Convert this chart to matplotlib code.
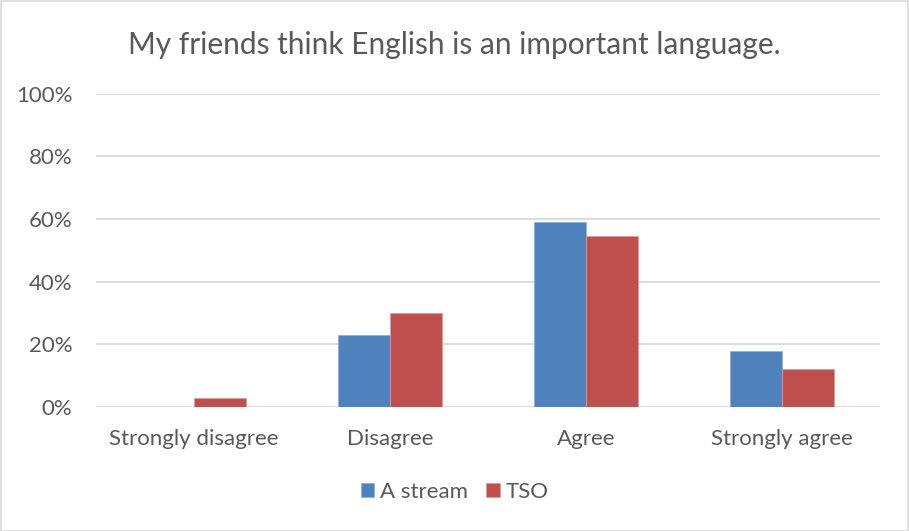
import matplotlib.pyplot as plt
from matplotlib.patches import Rectangle
import numpy as np

categories = ["Strongly disagree", "Disagree", "Agree", "Strongly agree"]
a_stream = [0.0, 23.0, 58.9, 17.9]
tso = [2.9, 30.1, 54.4, 12.0]
series_names = ["A stream", "TSO"]
yticks = [0, 20, 40, 60, 80, 100]

plt.rcParams['font.family'] = ['Lato', 'DejaVu Sans']
grey = '#595959'

fig = plt.figure(figsize=(9.09, 5.31), dpi=100)
ax = fig.add_axes([96/909, (531-407)/531, 784/909, 313.5/531])

x = np.arange(len(categories))
w = 0.265
ax.bar(x - w/2, a_stream, w, color='#4f81bd', edgecolor='#8fb0d8', linewidth=0.6, label=series_names[0], zorder=3)
ax.bar(x + w/2, tso, w, color='#c0504d', edgecolor='#e09a98', linewidth=0.6, label=series_names[1], zorder=3)

ax.set_xlim(-0.5, 3.5)
ax.set_ylim(0, 100)
ax.set_yticks(yticks)
ax.set_yticklabels([f"{v}%" for v in yticks])
ax.set_xticks(x)
ax.set_xticklabels(categories)
ax.tick_params(axis='both', length=0, labelsize=16, colors=grey)
ax.tick_params(axis='y', pad=17)
ax.tick_params(axis='x', pad=16)
ax.grid(axis='y', color='#d9d9d9', linewidth=1.3, zorder=0)
for s in ax.spines.values():
    s.set_visible(False)

fig.text(0.5, 1 - 45/531, "My friends think English is an important language.",
         ha='center', va='center', fontsize=21.5, color=grey)

leg = fig.legend(loc='center', bbox_to_anchor=(0.5, 1 - 492/531), ncol=2, frameon=False,
                 fontsize=16, handlelength=0.6, handleheight=0.6, columnspacing=0.85,
                 handletextpad=0.25)
for t in leg.get_texts():
    t.set_color(grey)

fig.patches.append(Rectangle((0.5/909, 0.5/531), 1 - 1.5/909, 1 - 1.5/531, transform=fig.transFigure,
                             fill=False, edgecolor='#d9d9d9', linewidth=1.2))

fig.savefig('out.png', dpi=100)
